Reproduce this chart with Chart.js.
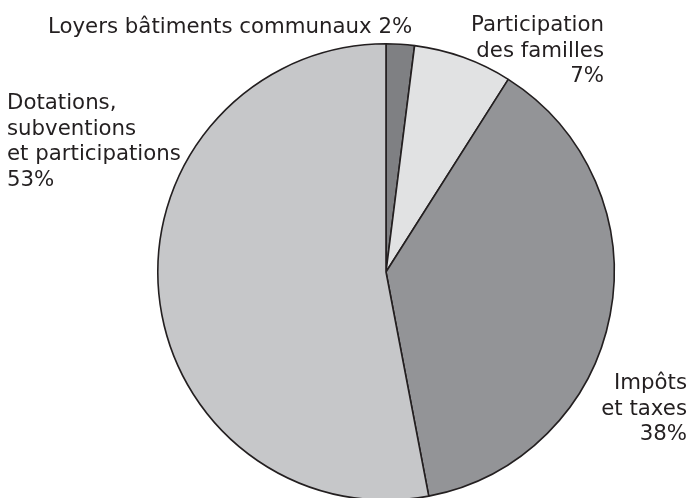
<!DOCTYPE html>
<html>
<head>
<meta charset="utf-8">
<script src="https://cdn.jsdelivr.net/npm/chart.js@4/dist/chart.umd.min.js"></script>
<style>
  html, body { margin: 0; padding: 0; background: #ffffff; overflow: hidden; width: 694px; height: 498px; }
  #wrap { position: absolute; left: 0; top: 0; width: 694px; height: 520px; }
</style>
</head>
<body>
<div id="wrap"><canvas id="c" width="694" height="520"></canvas></div>
<script>
// Data
const categories = ["Loyers bâtiments communaux", "Participation des familles", "Impôts et taxes", "Dotations, subventions et participations"];
const values = [2, 7, 38, 53];
const sliceColors = ["#7f8083", "#e1e2e3", "#939497", "#c6c7c9"];

// Label text lines (derived from categories/values)
const labelLines = [
  [categories[0] + " " + values[0] + "%"],
  ["Participation", "des familles", values[1] + "%"],
  ["Impôts", "et taxes", values[2] + "%"],
  ["Dotations,", "subventions", "et participations", values[3] + "%"]
];
// Label placement (x, first baseline y, alignment)
const labelLayout = [
  { x: 48, y: 33, align: "left" },
  { x: 604, y: 31, align: "right" },
  { x: 687, y: 389, align: "right" },
  { x: 7, y: 109, align: "left" }
];
const lineHeight = 25.6;

const labelPlugin = {
  id: "sliceLabels",
  afterDraw(chart) {
    const ctx = chart.ctx;
    ctx.save();
    ctx.fillStyle = "#231f20";
    ctx.font = "21.3px 'DejaVu Sans', Verdana, sans-serif";
    ctx.textBaseline = "alphabetic";
    labelLines.forEach((lines, i) => {
      const L = labelLayout[i];
      ctx.textAlign = L.align;
      lines.forEach((t, j) => ctx.fillText(t, L.x, L.y + j * lineHeight));
    });
    ctx.restore();
  }
};

new Chart(document.getElementById("c"), {
  type: "pie",
  data: {
    labels: categories,
    datasets: [{
      data: values,
      backgroundColor: sliceColors,
      borderColor: "#231f20",
      borderWidth: 1.6
    }]
  },
  options: {
    responsive: false,
    animation: false,
    devicePixelRatio: 1,
    layout: { padding: { left: 157, right: 79, top: 43, bottom: 19 } },
    plugins: { legend: { display: false }, tooltip: { enabled: false } }
  },
  plugins: [labelPlugin]
});
</script>
</body>
</html>
